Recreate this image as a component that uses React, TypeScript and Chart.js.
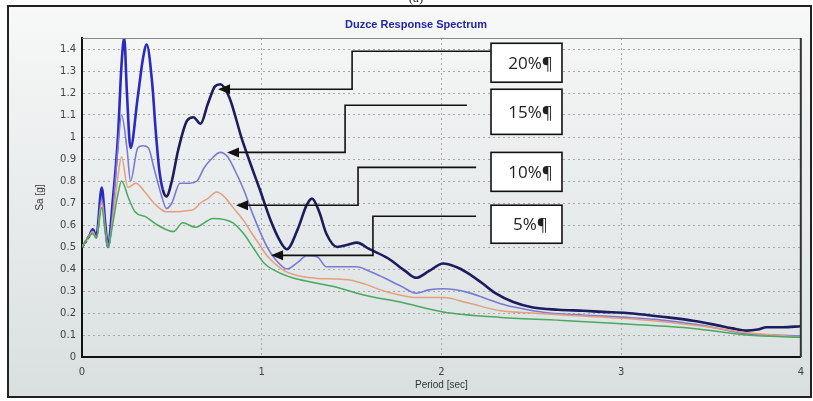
import { useEffect, useRef } from 'react';
import { Chart, registerables } from 'chart.js';

Chart.register(...registerables);

// ---- data (Period [sec] vs Sa [g]) ----
const period20 = [0, 0.04, 0.06, 0.08, 0.11, 0.13, 0.145, 0.17, 0.2, 0.22, 0.235, 0.25, 0.27, 0.31, 0.34, 0.36, 0.39, 0.41, 0.43, 0.45, 0.47, 0.5, 0.535, 0.585, 0.62, 0.66, 0.7, 0.74, 0.77, 0.82, 0.89, 0.95, 0.99, 1.05, 1.1, 1.14, 1.2, 1.25, 1.28, 1.32, 1.36, 1.42, 1.48, 1.53, 1.6, 1.7, 1.8, 1.86, 1.93, 2.01, 2.08, 2.14, 2.22, 2.3, 2.4, 2.51, 2.65, 2.79, 2.9, 3.03, 3.15, 3.26, 3.4, 3.53, 3.62, 3.7, 3.76, 3.81, 3.9, 4.0];
const sa20 = [0.5, 0.55, 0.58, 0.55, 0.77, 0.6, 0.5, 0.7, 1.0, 1.33, 1.45, 1.2, 0.95, 1.18, 1.36, 1.42, 1.25, 1.03, 0.85, 0.76, 0.73, 0.8, 0.94, 1.075, 1.09, 1.06, 1.15, 1.23, 1.24, 1.18, 0.99, 0.85, 0.76, 0.62, 0.53, 0.49, 0.58, 0.69, 0.72, 0.66, 0.56, 0.5, 0.51, 0.52, 0.49, 0.45, 0.39, 0.36, 0.39, 0.425, 0.41, 0.385, 0.34, 0.29, 0.25, 0.225, 0.215, 0.21, 0.205, 0.2, 0.19, 0.18, 0.165, 0.145, 0.13, 0.12, 0.125, 0.135, 0.135, 0.14];

const period15 = [0, 0.04, 0.06, 0.08, 0.11, 0.13, 0.145, 0.17, 0.2, 0.22, 0.25, 0.27, 0.31, 0.34, 0.37, 0.4, 0.44, 0.47, 0.5, 0.545, 0.6, 0.64, 0.68, 0.72, 0.77, 0.81, 0.85, 0.9, 0.95, 1.03, 1.08, 1.14, 1.2, 1.25, 1.31, 1.36, 1.45, 1.53, 1.6, 1.68, 1.78, 1.86, 1.93, 2.01, 2.14, 2.25, 2.36, 2.48, 2.6, 2.8, 3.03, 3.2, 3.44, 3.6, 3.7, 3.85, 4.0];
const sa15 = [0.5, 0.55, 0.57, 0.54, 0.72, 0.58, 0.5, 0.65, 0.95, 1.1, 0.95, 0.8, 0.95, 0.96, 0.95, 0.86, 0.74, 0.675, 0.7, 0.79, 0.79, 0.8, 0.86, 0.9, 0.93, 0.91, 0.85, 0.76, 0.65, 0.5, 0.44, 0.4, 0.43, 0.46, 0.455, 0.41, 0.41, 0.41, 0.39, 0.36, 0.32, 0.29, 0.305, 0.31, 0.295, 0.265, 0.235, 0.215, 0.2, 0.19, 0.18, 0.17, 0.145, 0.12, 0.105, 0.1, 0.095];

const period10 = [0, 0.04, 0.06, 0.08, 0.11, 0.13, 0.145, 0.17, 0.2, 0.22, 0.255, 0.3, 0.35, 0.4, 0.47, 0.52, 0.58, 0.62, 0.66, 0.7, 0.75, 0.79, 0.84, 0.9, 0.935, 0.98, 1.03, 1.12, 1.2, 1.31, 1.4, 1.49, 1.58, 1.68, 1.78, 1.86, 2.01, 2.15, 2.33, 2.5, 2.7, 3.03, 3.3, 3.5, 3.7, 3.85, 4.0];
const sa10 = [0.5, 0.55, 0.57, 0.54, 0.7, 0.57, 0.5, 0.62, 0.82, 0.91, 0.77, 0.79, 0.75, 0.7, 0.66, 0.66, 0.665, 0.67, 0.7, 0.72, 0.75, 0.73, 0.68, 0.62, 0.575, 0.52, 0.46, 0.395, 0.37, 0.357, 0.355, 0.35, 0.33, 0.3, 0.28, 0.27, 0.27, 0.245, 0.21, 0.2, 0.19, 0.175, 0.155, 0.135, 0.11, 0.1, 0.09];

const period5 = [0, 0.04, 0.06, 0.08, 0.11, 0.13, 0.145, 0.17, 0.2, 0.22, 0.26, 0.295, 0.36, 0.42, 0.51, 0.56, 0.63, 0.73, 0.84, 0.9, 0.95, 1.01, 1.08, 1.17, 1.28, 1.4, 1.58, 1.77, 2.01, 2.33, 2.7, 3.03, 3.4, 3.7, 4.0];
const sa5 = [0.5, 0.55, 0.56, 0.54, 0.68, 0.56, 0.5, 0.6, 0.74, 0.8, 0.72, 0.66, 0.635, 0.6, 0.57, 0.61, 0.59, 0.63, 0.61, 0.56, 0.5, 0.43, 0.39, 0.36, 0.34, 0.32, 0.28, 0.25, 0.205, 0.18, 0.165, 0.15, 0.13, 0.1, 0.09];

const xTickValues = [0, 1, 2, 3, 4];
const yTickValues = [0, 0.1, 0.2, 0.3, 0.4, 0.5, 0.6, 0.7, 0.8, 0.9, 1, 1.1, 1.2, 1.3, 1.4];
const calloutLabels = ['20%¶', '15%¶', '10%¶', '5%¶'];

// callout geometry in data units (period, Sa)
const callouts = [
  { tip: [0.757, 1.217], elbowX: 1.503, lineY: 1.39, lineEndX: 2.276, box: [2.276, 1.426, 2.671, 1.249] },
  { tip: [0.807, 0.93], elbowX: 1.464, lineY: 1.144, lineEndX: 2.142, box: [2.276, 1.217, 2.671, 1.012] },
  { tip: [0.857, 0.69], elbowX: 1.536, lineY: 0.862, lineEndX: 2.193, box: [2.276, 0.93, 2.671, 0.753] },
  { tip: [1.052, 0.462], elbowX: 1.619, lineY: 0.64, lineEndX: 2.193, box: [2.276, 0.69, 2.671, 0.517] },
];

const toPts = (xs: number[], ys: number[]) => xs.map((x, i) => ({ x, y: ys[i] }));

const decorPlugin = {
  id: 'decor',
  beforeDraw(chart: any) {
    const { ctx, width, height } = chart;
    ctx.save();
    ctx.fillStyle = '#ffffff';
    ctx.fillRect(0, 0, width, height);
    const g = ctx.createLinearGradient(0, 6, 0, 398);
    g.addColorStop(0, '#f7f8f8');
    g.addColorStop(1, '#d9dfdf');
    ctx.fillStyle = g;
    ctx.fillRect(8, 6, 803, 391);
    ctx.strokeStyle = '#222';
    ctx.lineWidth = 2;
    ctx.strokeRect(8, 6, 803, 391);
    // partially visible caption above the frame
    ctx.fillStyle = '#222';
    ctx.font = '13px "Liberation Serif"';
    ctx.textAlign = 'center';
    ctx.textBaseline = 'alphabetic';
    ctx.fillText('(a)', 416, 2);
    ctx.restore();
  },
  afterDraw(chart: any) {
    const { ctx, chartArea: ca } = chart;
    const xs = chart.scales.x;
    const ys = chart.scales.y;
    ctx.save();
    // top and right plot borders
    ctx.strokeStyle = '#888';
    ctx.lineWidth = 1;
    ctx.beginPath();
    ctx.moveTo(ca.left, ca.top + 0.5);
    ctx.lineTo(ca.right, ca.top + 0.5);
    ctx.stroke();
    ctx.strokeStyle = '#333';
    ctx.lineWidth = 2;
    ctx.beginPath();
    ctx.moveTo(ca.right, ca.top);
    ctx.lineTo(ca.right, ca.bottom);
    ctx.stroke();

    // title
    ctx.fillStyle = '#2424a8';
    ctx.font = 'bold 11px "Liberation Sans"';
    ctx.textAlign = 'center';
    ctx.textBaseline = 'middle';
    ctx.fillText('Duzce Response Spectrum', 416, 25);

    // axis titles
    ctx.fillStyle = '#333';
    ctx.font = '10px "Liberation Sans"';
    ctx.fillText('Period [sec]', (ca.left + ca.right) / 2, 385);
    ctx.save();
    ctx.translate(40, (ca.top + ca.bottom) / 2);
    ctx.rotate(-Math.PI / 2);
    ctx.fillText('Sa [g]', 0, 0);
    ctx.restore();

    // callouts
    callouts.forEach((c, i) => {
      const tx = xs.getPixelForValue(c.tip[0]);
      const ty = ys.getPixelForValue(c.tip[1]);
      const ex = xs.getPixelForValue(c.elbowX);
      const ly = ys.getPixelForValue(c.lineY);
      const lx = xs.getPixelForValue(c.lineEndX);
      ctx.strokeStyle = '#111';
      ctx.lineWidth = 1.6;
      ctx.beginPath();
      ctx.moveTo(tx + 8, ty);
      ctx.lineTo(ex, ty);
      ctx.lineTo(ex, ly);
      ctx.lineTo(lx, ly);
      ctx.stroke();
      ctx.fillStyle = '#111';
      ctx.beginPath();
      ctx.moveTo(tx, ty);
      ctx.lineTo(tx + 12, ty - 5);
      ctx.lineTo(tx + 12, ty + 5);
      ctx.closePath();
      ctx.fill();
      const bx1 = xs.getPixelForValue(c.box[0]);
      const by1 = ys.getPixelForValue(c.box[1]);
      const bx2 = xs.getPixelForValue(c.box[2]);
      const by2 = ys.getPixelForValue(c.box[3]);
      ctx.fillStyle = '#ffffff';
      ctx.fillRect(bx1, by1, bx2 - bx1, by2 - by1);
      ctx.strokeStyle = '#111';
      ctx.lineWidth = 1.6;
      ctx.strokeRect(bx1, by1, bx2 - bx1, by2 - by1);
      ctx.fillStyle = '#222';
      ctx.font = '17px "Open Sans"';
      ctx.textAlign = 'center';
      ctx.textBaseline = 'middle';
      ctx.fillText(calloutLabels[i], (bx1 + bx2) / 2 + 4, (by1 + by2) / 2 + 1);
    });
    ctx.restore();
  },
};

export default function App() {
  const ref = useRef<HTMLCanvasElement | null>(null);
  useEffect(() => {
    document.body.style.margin = '0';
    if (!ref.current) return;
    const chart = new Chart(ref.current, {
      type: 'line',
      data: {
        datasets: [
          {
            label: '5%',
            data: toPts(period5, sa5),
            borderColor: '#4aa860',
            borderWidth: 1.5,
            pointRadius: 0,
            cubicInterpolationMode: 'monotone',
          },
          {
            label: '10%',
            data: toPts(period10, sa10),
            borderColor: '#e3a07e',
            borderWidth: 1.5,
            pointRadius: 0,
            cubicInterpolationMode: 'monotone',
          },
          {
            label: '15%',
            data: toPts(period15, sa15),
            borderColor: '#7a7ad4',
            borderWidth: 1.6,
            pointRadius: 0,
            cubicInterpolationMode: 'monotone',
          },
          {
            label: '20%',
            data: toPts(period20, sa20),
            borderColor: '#1c1c5e',
            borderWidth: 2.6,
            pointRadius: 0,
            cubicInterpolationMode: 'monotone',
            segment: {
              borderColor: (c: any) =>
                c.p0.parsed.x < 0.035 ? '#111' : c.p0.parsed.x < 0.45 ? '#2a2ac0' : '#1c1c5e',
              borderDash: (c: any) => (c.p0.parsed.x < 0.035 ? [3, 2] : undefined),
            },
          },
        ],
      },
      options: {
        responsive: false,
        animation: false,
        layout: { padding: { left: 0, top: 38, right: 12, bottom: 0 } },
        plugins: { legend: { display: false }, tooltip: { enabled: false }, title: { display: false } },
        scales: {
          x: {
            type: 'linear',
            min: 0,
            max: 4,
            afterFit: (s: any) => { s.height = 44; },
            afterBuildTicks: (s: any) => { s.ticks = xTickValues.map((v) => ({ value: v })); },
            ticks: {
              padding: 9,
              color: '#444',
              font: { family: 'DejaVu Sans', size: 10 },
              callback: (v: any) => String(v),
            },
            grid: { color: '#a8a8a8', lineWidth: 1, drawTicks: false },
            border: { display: true, color: '#111', width: 2, dash: [2, 3] },
          },
          y: {
            type: 'linear',
            min: 0,
            max: 1.45,
            afterFit: (s: any) => { s.width = 82; },
            afterBuildTicks: (s: any) => { s.ticks = yTickValues.map((v) => ({ value: v })); },
            ticks: {
              padding: 6,
              color: '#444',
              font: { family: 'DejaVu Sans', size: 10 },
              callback: (v: any) => String(Math.round(Number(v) * 10) / 10),
            },
            grid: { color: '#a8a8a8', lineWidth: 1, drawTicks: false },
            border: { display: true, color: '#111', width: 2, dash: [2, 3] },
          },
        },
      },
      plugins: [decorPlugin],
    } as any);
    return () => chart.destroy();
  }, []);
  return (
    <div style={{ width: 813, height: 401 }}>
      <canvas ref={ref} width={813} height={401} style={{ display: 'block' }} />
    </div>
  );
}
